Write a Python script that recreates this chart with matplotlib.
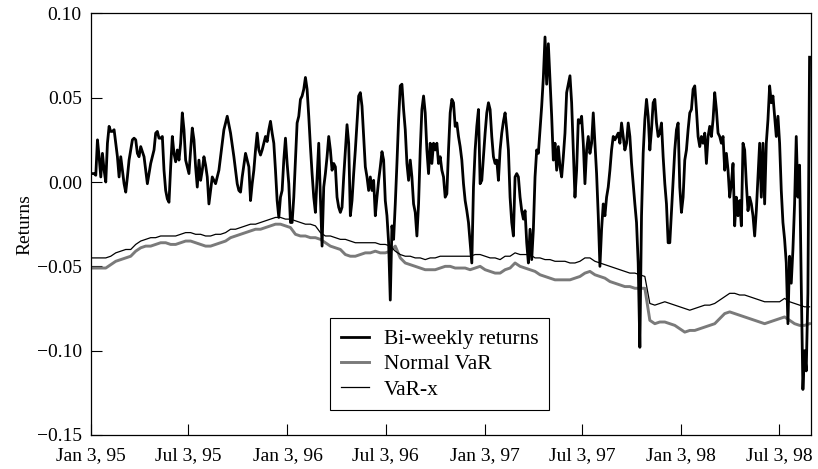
import numpy as np
import pandas as pd
import matplotlib
matplotlib.use("Agg")
import matplotlib.pyplot as plt

# Bi-weekly returns at evenly spaced dates
returns = [
    0.005, 0.005, 0.005, 0.004, 0.025, 0.015, 0.003, 0.017, 0.007, 0.000,
    0.023, 0.033, 0.030, 0.030, 0.031, 0.023, 0.015, 0.003, 0.015, 0.007,
    -0.001, -0.006, 0.003, 0.013, 0.019, 0.025, 0.026, 0.025, 0.017, 0.015,
    0.021, 0.018, 0.015, 0.007, -0.001, 0.005, 0.011, 0.015, 0.019, 0.029,
    0.030, 0.026, 0.026, 0.027, 0.007, -0.005, -0.010, -0.012, 0.009, 0.027,
    0.017, 0.012, 0.019, 0.013, 0.023, 0.041, 0.031,
    # mid 1995
    0.013, 0.009, 0.005, 0.019, 0.032, 0.025, 0.009, -0.003, 0.013, 0.001,
    0.007, 0.015, 0.010, 0.003, -0.013, -0.005, 0.003, 0.001, -0.001, 0.003,
    0.007, 0.015, 0.023, 0.031, 0.035, 0.039, 0.034, 0.029, 0.022, 0.015,
    0.007, -0.001, -0.005, -0.006, 0.003, 0.010, 0.017, 0.013, 0.009, -0.011,
    -0.001, 0.007, 0.019, 0.029, 0.019, 0.016, 0.019, 0.023, 0.027, 0.024,
    0.031, 0.036, 0.029, 0.023, 0.007, -0.011, -0.021,
    # early 1996
    -0.009, -0.005, 0.013, 0.026, 0.011, -0.001, -0.024, -0.024, -0.009, 0.013,
    0.035, 0.039, 0.049, 0.051, 0.055, 0.062, 0.055, 0.039, 0.021, 0.005,
    -0.009, -0.018, 0.003, 0.023, -0.009, -0.038, -0.003, 0.005, 0.015, 0.027,
    0.019, 0.007, 0.011, 0.009, -0.009, -0.015, -0.018, -0.015, 0.003, 0.019,
    0.034, 0.023, -0.020, -0.011, 0.005, 0.019, 0.035, 0.051, 0.053, 0.045,
    0.027, 0.009, 0.003, -0.005, 0.003, -0.005, 0.001,
    # mid 1996
    -0.020, -0.009, 0.001, 0.009, 0.018, 0.013, -0.011, -0.020, -0.036, -0.070,
    -0.026, -0.034, -0.013, 0.011, 0.037, 0.057, 0.058, 0.043, 0.031, 0.011,
    0.001, 0.013, 0.003, -0.013, -0.018, -0.032, -0.013, 0.019, 0.043, 0.051,
    0.041, 0.019, 0.005, 0.023, 0.011, 0.023, 0.019, 0.023, 0.011, 0.015,
    0.007, 0.003, -0.009, -0.007, 0.019, 0.041, 0.049, 0.047, 0.033, 0.035,
    0.027, 0.021, 0.013, -0.001, -0.011, -0.017, -0.024,
    # early 1997
    -0.036, -0.048, -0.003, 0.019, 0.033, 0.043, -0.001, 0.001, 0.015, 0.029,
    0.041, 0.047, 0.043, 0.027, 0.015, 0.011, 0.013, 0.001, 0.019, 0.029,
    0.036, 0.041, 0.031, 0.019, -0.009, -0.024, -0.032, 0.003, 0.005, 0.003,
    -0.009, -0.017, -0.022, -0.017, -0.036, -0.048, -0.028, -0.046, -0.028, 0.003,
    0.019, 0.017, 0.031, 0.045, 0.062, 0.086, 0.058, 0.082, 0.060, 0.039,
    0.013, 0.023, 0.007, 0.021, 0.009, 0.003, 0.015,
    # mid 1997
    0.029, 0.053, 0.058, 0.063, 0.047, 0.019, -0.009, 0.007, 0.037, 0.035,
    0.039, 0.023, -0.001, 0.019, 0.027, 0.017, 0.023, 0.041, 0.023, 0.005,
    -0.020, -0.050, -0.028, -0.013, -0.020, -0.009, -0.003, 0.007, 0.019, 0.027,
    0.025, 0.027, 0.029, 0.023, 0.035, 0.027, 0.019, 0.023, 0.035, 0.027,
    0.011, -0.001, -0.013, -0.024, -0.048, -0.098, -0.020, 0.017, 0.037, 0.049,
    0.039, 0.019, 0.031, 0.047, 0.049, 0.035, 0.027,
    # 1998
    0.029, 0.035, 0.015, -0.001, -0.013, -0.036, -0.036, -0.018, 0.001, 0.019,
    0.031, 0.035, -0.003, -0.018, -0.009, 0.013, 0.019, 0.031, 0.041, 0.043,
    0.055, 0.057, 0.043, 0.027, 0.021, 0.027, 0.023, 0.029, 0.011, 0.027,
    0.033, 0.027, 0.037, 0.053, 0.043, 0.029, 0.027, 0.023, 0.027, 0.007,
    0.017, 0.007, -0.009, -0.001, 0.011, -0.026, -0.009, -0.020, -0.011, -0.026,
    0.023, 0.019, -0.001, -0.017, -0.009, -0.013, -0.020, -0.032, -0.017, 0.003,
    0.023, -0.009, 0.023, -0.013, 0.023, 0.037, 0.057, 0.047, 0.051, 0.039,
    0.027, 0.039, 0.023, -0.005, -0.024, -0.034, -0.048, -0.084, -0.044, -0.060,
    -0.040, -0.013, 0.027, -0.009, 0.010, -0.060, -0.123, -0.100, -0.112, -0.066,
    0.074,
]

normal_var = [
    -0.051, -0.051, -0.051, -0.051, -0.049, -0.047, -0.046, -0.045, -0.044, -0.041,
    -0.039, -0.038, -0.038, -0.037, -0.036, -0.036, -0.037, -0.037, -0.036, -0.035,
    -0.035, -0.036, -0.037, -0.038, -0.038, -0.037, -0.036, -0.035, -0.033, -0.032,
    -0.031, -0.030, -0.029, -0.028, -0.028, -0.027, -0.026, -0.025, -0.025, -0.026,
    -0.027, -0.031, -0.032, -0.032, -0.033, -0.033, -0.034, -0.036, -0.038, -0.039,
    -0.040, -0.043, -0.044, -0.044, -0.043, -0.042, -0.042, -0.041, -0.042, -0.042,
    -0.041, -0.038, -0.045, -0.048, -0.049, -0.050, -0.051, -0.052, -0.052, -0.052,
    -0.051, -0.050, -0.050, -0.051, -0.051, -0.051, -0.052, -0.051, -0.050, -0.052,
    -0.053, -0.054, -0.054, -0.052, -0.051, -0.048, -0.050, -0.051, -0.052, -0.053,
    -0.055, -0.056, -0.057, -0.058, -0.058, -0.058, -0.058, -0.057, -0.056, -0.054,
    -0.053, -0.055, -0.056, -0.057, -0.059, -0.060, -0.061, -0.062, -0.062, -0.063,
    -0.063, -0.063, -0.082, -0.084, -0.083, -0.083, -0.084, -0.085, -0.087, -0.089,
    -0.088, -0.088, -0.087, -0.086, -0.085, -0.084, -0.081, -0.078, -0.077, -0.078,
    -0.079, -0.080, -0.081, -0.082, -0.083, -0.084, -0.083, -0.082, -0.081, -0.080,
    -0.082, -0.084, -0.085, -0.085, -0.084,
]

var_x = [
    -0.045, -0.045, -0.045, -0.045, -0.044, -0.042, -0.041, -0.040, -0.040, -0.037,
    -0.035, -0.034, -0.033, -0.033, -0.032, -0.032, -0.032, -0.032, -0.031, -0.030,
    -0.030, -0.031, -0.031, -0.032, -0.032, -0.031, -0.031, -0.030, -0.028, -0.028,
    -0.027, -0.026, -0.025, -0.025, -0.024, -0.023, -0.022, -0.021, -0.021, -0.022,
    -0.022, -0.023, -0.024, -0.025, -0.025, -0.026, -0.030, -0.032, -0.032, -0.033,
    -0.034, -0.034, -0.035, -0.036, -0.036, -0.036, -0.036, -0.036, -0.037, -0.037,
    -0.038, -0.041, -0.043, -0.044, -0.044, -0.045, -0.045, -0.046, -0.045, -0.045,
    -0.044, -0.044, -0.044, -0.044, -0.044, -0.044, -0.044, -0.043, -0.043, -0.044,
    -0.045, -0.045, -0.046, -0.044, -0.044, -0.042, -0.043, -0.043, -0.043, -0.045,
    -0.045, -0.046, -0.046, -0.047, -0.047, -0.047, -0.048, -0.048, -0.047, -0.045,
    -0.045, -0.047, -0.048, -0.049, -0.050, -0.051, -0.052, -0.053, -0.054, -0.054,
    -0.055, -0.056, -0.072, -0.073, -0.072, -0.071, -0.072, -0.073, -0.074, -0.075,
    -0.076, -0.075, -0.074, -0.073, -0.073, -0.072, -0.070, -0.068, -0.066, -0.066,
    -0.067, -0.067, -0.068, -0.069, -0.070, -0.071, -0.071, -0.071, -0.071, -0.069,
    -0.071, -0.072, -0.073, -0.074, -0.074,
]

start_date = "1995-01-03"
end_date = "1998-08-29"
tick_dates = ["1995-01-03", "1995-07-03", "1996-01-03", "1996-07-03",
              "1997-01-03", "1997-07-03", "1998-01-03", "1998-07-03"]
tick_labels = ["Jan 3, 95", "Jul 3, 95", "Jan 3, 96", "Jul 3, 96",
               "Jan 3, 97", "Jul 3, 97", "Jan 3, 98", "Jul 3, 98"]
y_ticks = [-0.15, -0.10, -0.05, 0.00, 0.05, 0.10]
y_labels = ["\u22120.15", "\u22120.10", "\u22120.05", "0.00", "0.05", "0.10"]

ret_dates = pd.date_range(start_date, end_date, periods=len(returns))
var_dates = pd.date_range(start_date, end_date, periods=len(var_x))

plt.rcParams["font.family"] = ["Liberation Serif", "DejaVu Serif"]

fig = plt.figure(figsize=(8.18, 4.69), dpi=100)
ax = fig.add_axes([0.111, 0.0725, 0.880, 0.899])

ax.plot(var_dates, normal_var, color="#7a7a7a", lw=2.1, label="Normal VaR", zorder=2)
ax.plot(var_dates, var_x, color="black", lw=0.9, label="VaR-x", zorder=3)
ax.plot(ret_dates, returns, color="black", lw=2.0, label="Bi-weekly returns", zorder=4)

ax.set_xlim(pd.Timestamp(start_date), pd.Timestamp("1998-08-31"))
ax.set_ylim(-0.15, 0.10)
ax.set_xticks(pd.to_datetime(tick_dates))
ax.set_xticklabels(tick_labels)
ax.set_yticks(y_ticks)
ax.set_yticklabels(y_labels)
ax.tick_params(direction="in", length=8, width=0.8, labelsize=14,
               top=False, right=False)
ax.tick_params(axis="x", pad=9)
ax.tick_params(axis="y", pad=6.5)
ax.set_ylabel("Returns", fontsize=14, labelpad=2.5)
for s in ax.spines.values():
    s.set_linewidth(0.9)

handles, labels = ax.get_legend_handles_labels()
order = [2, 0, 1]
leg = ax.legend([handles[i] for i in order], [labels[i] for i in order],
                loc="upper left", bbox_to_anchor=(0.332, 0.277), borderaxespad=0,
                fontsize=15.5, frameon=True, fancybox=False, edgecolor="black",
                framealpha=1, handlelength=1.3, labelspacing=0.24,
                borderpad=0.5, handletextpad=0.7)
leg.get_frame().set_linewidth(0.8)

fig.savefig("out.png", dpi=100)
